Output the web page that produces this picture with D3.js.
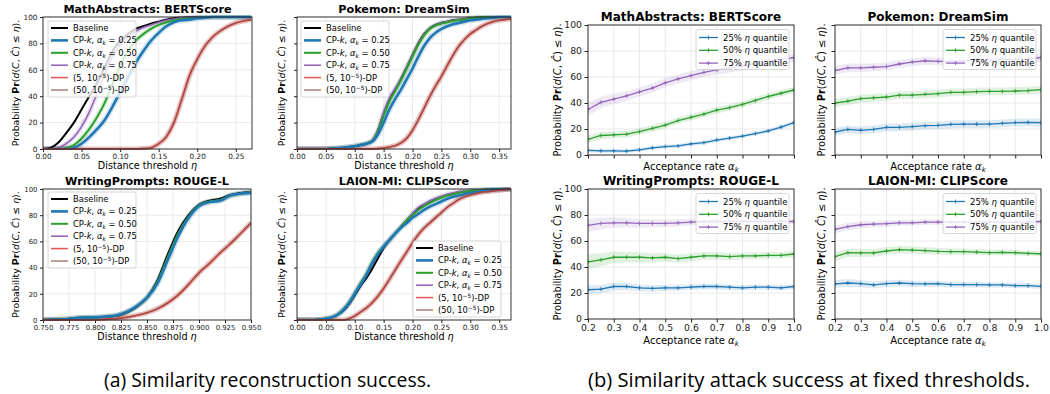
<!DOCTYPE html>
<html><head><meta charset="utf-8">
<script src="https://cdn.jsdelivr.net/npm/d3@7"></script>
<style>
body{margin:0;background:#fff;}
svg{display:block;font-family:"DejaVu Sans",sans-serif;}
</style></head><body>
<svg id="c" width="1050" height="394"></svg>
<script>
// ---------------- DATA ----------------
// (a) CDF curves
const mathEta = [0,0.01,0.02,0.03,0.04,0.05,0.06,0.07,0.08,0.09,0.10,0.11,0.12,0.13,0.14,0.15,0.16,0.17,0.18,0.19,0.20,0.21,0.22,0.23,0.24,0.25,0.26,0.27];
const mathBaseline = [0,1,5,12,20,30,40,50,62,74,82,87,91,93,95,96.5,98,99,99.5,100,100,100,100,100,100,100,100,100];
const mathCP25 = [0,0,0,0,1,4,9,15,22,32,43,54,65,74,82,88,93,96,97.5,98,99,99.5,100,100,100,100,100,100];
const mathCP50 = [0,0,0,1,3,8,15,24,35,49,63,74,82,87,91,94,96,97.5,98.5,99,99.5,100,100,100,100,100,100,100];
const mathCP75 = [0,0,1,4,9,17,28,42,57,70,79,85,89,92,94,96,97.5,98.5,99.5,100,100,100,100,100,100,100,100,100];
const mathDP5 = [0,0,0,0,0,0,0,0,0,0,0,0,0,0.3,1,4,9,20,38,56,68,78,85,89.5,93,95.5,97,98];
const mathDP50 = [0,0,0,0,0,0,0,0,0,0,0,0,0,0.3,1,4,10,21,37,55,68,78,84.5,89.5,93,95.5,97,98.2];

const pokeEta = [0,0.01,0.02,0.03,0.04,0.05,0.06,0.07,0.08,0.09,0.10,0.11,0.12,0.13,0.14,0.15,0.16,0.17,0.18,0.19,0.20,0.21,0.22,0.23,0.24,0.25,0.26,0.27,0.28,0.29,0.30,0.31,0.32,0.33,0.34,0.35,0.36,0.37];
const pokeBaseline = [0,0,0,0,0,0,0.3,0.5,1,1.5,2,3,4,6,14,27,37,45,53,62,71,80,87,91.5,94,95.5,96.5,97.5,98,98.5,99,99.5,100,100,100,100,100,100];
const pokeCP25 = [0,0,0,0,0,0,0.3,0.5,1,1.5,2,3,4,5.5,11,20,30,38,45,53,61,70,78,84,88,91,93,94.5,95.5,96.5,97.5,98,98.5,99,99.5,100,100,100];
const pokeCP50 = [0,0,0,0,0,0,0.3,0.5,1,1.5,2.2,3.2,4.2,6,13,25,36,44,52,61,70,79,86,91,93.5,95,96,97,97.5,98,99,99.5,100,100,100,100,100,100];
const pokeCP75 = [0,0,0,0,0,0,0.3,0.5,1,1.5,2,3,4,6.5,14,28,39,46,53,62,71,80,87,91.5,94,95.5,96.5,97.5,98,98.5,99,99.5,100,100,100,100,100,100];
const pokeDP5 = [0,0,0,0,0,0,0,0,0,0,0,0,0,0,0.3,0.7,1.5,2.5,4.5,8,14,22,31,40,48,55,63,71,78,83,87,90,93,95,96.5,97.5,98,98.5];
const pokeDP50 = [0,0,0,0,0,0,0,0,0,0,0,0,0,0,0.3,0.8,1.6,2.7,5,8.5,14.5,22.5,31,39.5,47.5,55,63.5,71,77.5,83,87.5,90.5,93,95,96.5,97.5,98,98.7];

const writeEta = [0.75,0.76,0.77,0.78,0.79,0.80,0.81,0.82,0.83,0.84,0.85,0.86,0.87,0.88,0.89,0.90,0.91,0.92,0.93,0.94,0.95];
const writeBaseline = [0,0.3,0.5,1.5,2,2,2.5,3,5.5,10,17,30,50,68,80,88,91,92.5,95.5,97,97.5];
const writeCP25 = [0,0.3,0.5,1.3,1.8,2,2.5,3.5,6,10.5,17,28,46,64,78,87,90,91,95,96.5,97];
const writeCP50 = [0,0.3,0.5,1.4,1.9,2,2.5,3.3,5.8,10.3,17,29,48,66,79,87.5,90.5,91.5,95,96.5,97.5];
const writeCP75 = [0,0.3,0.5,1.4,1.9,2,2.5,3.3,5.8,10.3,17,29,48,66,79,87.5,90.5,91.5,95,96.5,97.5];
const writeDP5 = [0,0,0,0,0,0,0.5,1,2,3.5,5.5,8.5,13,19,27,36,43,51,58,66,74];
const writeDP50 = [0,0,0,0,0,0,0.5,1,2,3.6,5.6,8.8,13.5,19.5,27.5,36,43.5,51,58.5,66,74.5];

const laionEta = [0,0.01,0.02,0.03,0.04,0.05,0.06,0.07,0.08,0.09,0.10,0.11,0.12,0.13,0.14,0.15,0.16,0.17,0.18,0.19,0.20,0.21,0.22,0.23,0.24,0.25,0.26,0.27,0.28,0.29,0.30,0.31,0.32,0.33,0.34,0.35,0.36,0.37];
const laionBaseline = [0,0,0,0,0.3,1,2,4,7,12,19,26,32,39,47,55,61,66,71,76,81,85,88,90.5,92.5,94,95.5,96.5,97.5,98,98.5,99,99.3,99.5,99.7,99.8,99.9,100];
const laionCP25 = [0,0,0,0,0.3,1,2,4,7.5,13,20,27,34,43,50,56,61,66,70.5,74,78,81,84,86.5,88.5,90.5,92.5,94,95,96,97,97.5,98.5,99,99.5,99.7,100,100];
const laionCP50 = [0,0,0,0,0.3,1,2,4,8,13,20,28,35,44,51,56,61,66,71,76,80,84,87,89.5,91.5,93.5,95,96,97,98,98.5,99,99.3,99.5,99.7,99.9,100,100];
const laionCP75 = [0,0,0,0,0.3,1,2,4,7.5,12.5,20,27,34,42,50,56,61,66,71,76,81.5,86,88.5,91,93,94.5,96,97,98,98.5,99,99.3,99.5,99.7,99.8,99.9,100,100];
const laionDP5 = [0,0,0,0,0,0,0,0,0,1,3,6,9,13,18,24,31,38,45,52,59,65,70,74,78,82,86,89,92,94,95.5,96.5,97.5,98,98.5,99,99.5,100];
const laionDP50 = [0,0,0,0,0,0,0,0,0,1.2,3.2,6.3,9.5,13.5,18.5,24.5,31,38.5,45.5,52,59,65.5,70.5,74.5,78.5,82,86,89,92,94,95.5,96.5,97.5,98,98.7,99.2,99.6,100];

// (b) attack success vs acceptance rate
const alphaK = [0.2,0.25,0.3,0.35,0.4,0.45,0.5,0.55,0.6,0.65,0.7,0.75,0.8,0.85,0.9,0.95,1.0];
const mathQ25 = [3.5,3.2,3.2,3.0,4,5.5,6.5,7,8.5,9.5,11.5,13,14.5,16.5,18.5,21.5,25];
const mathQ50 = [12,15,15.5,16,18,20.5,23,26.5,29,31.5,34.5,36.5,39,42,45,47.5,50];
const mathQ75 = [35,40.5,43,45.5,48.5,51.5,55.5,58.5,61,63.5,65.5,67,68.5,70,72,73.5,75];
const pokeQ25 = [17.7,19.7,19,19.7,21.3,21.3,21.8,22.6,22.8,23.6,23.8,23.8,23.8,24.4,24.9,25.1,24.9];
const pokeQ50 = [40,41.5,43.3,44,44.6,46,46,46.7,47.2,48.2,48.2,48.7,49,49,49.2,49.5,50.3];
const pokeQ75 = [65,67,67,67.5,68,70,71.5,72.5,72,72,72.5,73,73,73.5,73.5,74,75];
const writeQ25 = [22.5,23,25,25,24,23.5,24,24,24.5,25,25,24.5,24,24.5,24.5,24,25];
const writeQ50 = [44,45.5,47.5,47.5,47.5,47,47.5,46.5,47.5,48.5,48.5,48,48.5,48.5,49,49,50];
const writeQ75 = [72,73.5,74,74,73.5,73.5,73.5,74,74.5,75,75,75,75,75,75,75,75];
const laionQ25 = [27,27.7,27.2,26.2,27.2,27.7,27.2,27,27.2,26.4,26.4,26.4,26.2,26.2,25.6,25.6,25.1];
const laionQ50 = [48,51,50.8,50.8,52.3,53.3,53,52.6,52,51.8,51.8,51.5,51,51.3,51,50.5,50.2];
const laionQ75 = [69,71,72.5,73,73.3,74,74,74.5,74.5,74.5,74.5,74.5,74.5,74.5,74.5,74.5,75];
// confidence half-widths
const mathHw25 = [1.5,1.5,1.5,1.5,1.5,1.5,1.5,1.5,1.5,1.5,1.5,1.5,1.5,1.5,1.5,1.8,2];
const mathHw50 = [3,2.8,2.5,2.5,2.5,2.5,2.5,2.5,2.5,2.5,2.5,2.5,2.5,2.5,2.5,2.5,2.5];
const mathHw75 = [5,4.5,4,3.8,3.5,3.5,3.5,3.5,3.5,3.5,3.5,3.5,3.5,3.5,3.5,3.5,3];
const pokeHw25 = [3,3,3,3,3,3,3,3,3,3,3,3,3,3,3,3,3];
const pokeHw50 = [3,3,3,3,3,3,3,3,3,3,3,3,3,3,3,3,3];
const pokeHw75 = [3.5,3.3,3.2,3,3,3,3,3,3,3,3,3,3,3,3,3,3];
const writeHw25 = [3.5,3.2,3,2.8,2.6,2.5,2.4,2.3,2.2,2.2,2.1,2.1,2,2,2,2,2];
const writeHw50 = [6,5,4.5,4,3.8,3.5,3.3,3.2,3,3,2.8,2.8,2.7,2.6,2.5,2.5,2.5];
const writeHw75 = [5,4.5,4,3.5,3.3,3,3,2.8,2.6,2.5,2.4,2.3,2.2,2.1,2,2,2];
const laionHw25 = [3,3,2.8,2.7,2.6,2.5,2.5,2.4,2.3,2.3,2.2,2.2,2.1,2.1,2,2,2];
const laionHw50 = [3.5,3.3,3.2,3,3,2.9,2.8,2.7,2.6,2.5,2.4,2.3,2.2,2.2,2.1,2,2];
const laionHw75 = [3,2.8,2.6,2.4,2.3,2.2,2.1,2,2,1.9,1.8,1.8,1.7,1.7,1.6,1.6,1.5];

// tick values
const yTicks = [0,20,40,60,80,100];
const etaTicksA = [0,0.05,0.10,0.15,0.20,0.25];
const etaTicksB = [0,0.05,0.10,0.15,0.20,0.25,0.30,0.35];
const etaTicksW = [0.75,0.775,0.80,0.825,0.85,0.875,0.90,0.925,0.95];
const alphaTicks = [0.2,0.3,0.4,0.5,0.6,0.7,0.8,0.9,1.0];

// --------------- DRAWING ---------------
const svg = d3.select("#c");
const C = {black:"#000000", blue:"#1f77b4", green:"#2ca02c", purple:"#9467bd", red:"#d62728", brown:"#8c564b"};

function rich(t, segs, fs){
  segs.forEach(s=>{
    if(typeof s==="string") s={t:s};
    const ts=t.append("tspan").text(s.t);
    if(s.b) ts.attr("font-weight","bold");
    if(s.i) ts.attr("font-style","italic");
    if(s.sub) ts.attr("baseline-shift",-fs*0.22).attr("font-size",fs*0.7);
    if(s.sup) ts.attr("baseline-shift",fs*0.38).attr("font-size",fs*0.7);
  });
  return t;
}
const yLabelSegs = ["Probability ",{t:"Pr",b:1},"(",{t:"d",i:1},"(",{t:"C",i:1},", ",{t:"Ĉ",i:1},") ≤ ",{t:"η",i:1},")."];

function axesFrame(g,p,x,y,xt,fmt,showX,showY,fs,tick,xpad){
  g.append("g").selectAll("line").data(xt).join("line")
    .attr("x1",d=>x(d)).attr("x2",d=>x(d)).attr("y1",p.y0).attr("y2",p.y1)
    .attr("stroke","#e4e4e4").attr("stroke-width",0.8);
  g.append("g").selectAll("line").data(yTicks).join("line")
    .attr("y1",d=>y(d)).attr("y2",d=>y(d)).attr("x1",p.x0).attr("x2",p.x1)
    .attr("stroke","#e4e4e4").attr("stroke-width",0.8);
  const ax=g.append("g").attr("transform",`translate(0,${p.y1})`)
    .call(d3.axisBottom(x).tickValues(xt).tickFormat(showX?d3.format(fmt):"").tickSize(tick).tickPadding(xpad));
  const ay=g.append("g").attr("transform",`translate(${p.x0},0)`)
    .call(d3.axisLeft(y).tickValues(yTicks).tickFormat(showY?d3.format("d"):"").tickSize(tick).tickPadding(2.5));
  [ax,ay].forEach(a=>{a.select(".domain").remove();
    a.attr("font-family","DejaVu Sans").attr("font-size",fs);
    a.selectAll("line").attr("stroke","#222");
    a.selectAll("text").attr("fill","#222");});
}
function frame(g,p){
  g.append("rect").attr("x",p.x0).attr("y",p.y0).attr("width",p.x1-p.x0).attr("height",p.y1-p.y0)
   .attr("fill","none").attr("stroke","#222").attr("stroke-width",0.9);
}

// ---- (a) ----
const leftSeries = [
  {key:"base", color:C.black, w:2, band:0, label:["Baseline"]},
  {key:"cp25", color:C.blue, w:2.6, band:6, label:["CP-",{t:"k",i:1},", ",{t:"α",i:1},{t:"k",i:1,sub:1}," = 0.25"]},
  {key:"cp50", color:C.green, w:2, band:5, label:["CP-",{t:"k",i:1},", ",{t:"α",i:1},{t:"k",i:1,sub:1}," = 0.50"]},
  {key:"cp75", color:C.purple, w:1.6, band:5, label:["CP-",{t:"k",i:1},", ",{t:"α",i:1},{t:"k",i:1,sub:1}," = 0.75"]},
  {key:"dp5", color:C.red, w:1.6, band:5, op:0.9, label:["(5, 10",{t:"−5",sup:1},")-DP"]},
  {key:"dp50", color:C.brown, w:1.5, band:5, op:0.6, label:["(50, 10",{t:"−5",sup:1},")-DP"]}
];
const drawOrder = ["base","cp75","cp50","cp25","dp5","dp50"];
const leftPanels = [
  {title:"MathAbstracts: BERTScore", x0:43,x1:252,y0:17,y1:149, xdom:[0,0.271], xt:etaTicksA, fmt:".2f", showY:true, eta:mathEta,
   d:{base:mathBaseline,cp25:mathCP25,cp50:mathCP50,cp75:mathCP75,dp5:mathDP5,dp50:mathDP50}, leg:[48,21]},
  {title:"Pokemon: DreamSim", x0:297,x1:511,y0:17,y1:149, xdom:[0,0.3705], xt:etaTicksB, fmt:".2f", showY:false, eta:pokeEta,
   d:{base:pokeBaseline,cp25:pokeCP25,cp50:pokeCP50,cp75:pokeCP75,dp5:pokeDP5,dp50:pokeDP50}, leg:[301,21]},
  {title:"WritingPrompts: ROUGE-L", x0:43,x1:251,y0:189,y1:320, xdom:[0.75,0.95], xt:etaTicksW, fmt:".3f", showY:true, eta:writeEta,
   d:{base:writeBaseline,cp25:writeCP25,cp50:writeCP50,cp75:writeCP75,dp5:writeDP5,dp50:writeDP50}, leg:[48,192]},
  {title:"LAION-MI: CLIPScore", x0:297,x1:511,y0:189,y1:320, xdom:[0,0.3705], xt:etaTicksB, fmt:".2f", showY:false, eta:laionEta,
   d:{base:laionBaseline,cp25:laionCP25,cp50:laionCP50,cp75:laionCP75,dp5:laionDP5,dp50:laionDP50}, leg:[413,241]}
];
leftPanels.forEach((p,i)=>{
  const g=svg.append("g");
  const x=d3.scaleLinear().domain(p.xdom).range([p.x0,p.x1]);
  const y=d3.scaleLinear().domain([0,100]).range([p.y1,p.y0]);
  axesFrame(g,p,x,y,p.xt,p.fmt,true,p.showY,i===2?6.9:7.3,3,2);
  const cid="clipL"+i;
  g.append("clipPath").attr("id",cid).append("rect").attr("x",p.x0).attr("y",p.y0-2).attr("width",p.x1-p.x0).attr("height",p.y1-p.y0+3);
  const cg=g.append("g").attr("clip-path",`url(#${cid})`);
  const line=d3.line().x((d,j)=>x(p.eta[j])).y(d=>y(d)).curve(d3.curveMonotoneX);
  drawOrder.forEach(k=>{
    const s=leftSeries.find(z=>z.key===k);
    if(s.band) cg.append("path").attr("d",line(p.d[k])).attr("fill","none").attr("stroke",s.color)
      .attr("stroke-width",s.band).attr("stroke-opacity",0.18).attr("stroke-linejoin","round");
  });
  drawOrder.forEach(k=>{
    const s=leftSeries.find(z=>z.key===k);
    cg.append("path").attr("d",line(p.d[k])).attr("fill","none").attr("stroke",s.color)
      .attr("stroke-width",s.w).attr("stroke-opacity",s.op||1).attr("stroke-linejoin","round");
  });
  frame(g,p);
  g.append("text").attr("x",(p.x0+p.x1)/2).attr("y",p.y0-4).attr("text-anchor","middle")
    .attr("font-weight","bold").attr("font-size",11.2).text(p.title);
  rich(g.append("text").attr("x",(p.x0+p.x1)/2).attr("y",p.y1+19.8).attr("text-anchor","middle").attr("font-size",9.6),
    ["Distance threshold ",{t:"η",i:1}],9.6);
  rich(g.append("text").attr("transform",`translate(${p.x0-(p.showY?24.5:12)},${(p.y0+p.y1)/2}) rotate(-90)`)
    .attr("text-anchor","middle").attr("font-size",9.4),yLabelSegs,9.4);
  // legend
  const lg=g.append("g").attr("transform",`translate(${p.leg[0]},${p.leg[1]})`);
  lg.append("rect").attr("width",88).attr("height",76).attr("rx",2).attr("fill","#fff").attr("fill-opacity",0.8)
    .attr("stroke","#cccccc").attr("stroke-width",0.8);
  leftSeries.forEach((s,j)=>{
    const yy=7+j*12.4;
    lg.append("line").attr("x1",3).attr("x2",20).attr("y1",yy).attr("y2",yy).attr("stroke",s.color)
      .attr("stroke-width",s.w).attr("stroke-opacity",s.op?0.75:1);
    rich(lg.append("text").attr("x",25).attr("y",yy+3).attr("font-size",8.4),s.label,8.4);
  });
});

// ---- (b) ----
const rightSeries = [
  {color:C.blue, label:["25% ",{t:"η",i:1}," quantile"]},
  {color:C.green, label:["50% ",{t:"η",i:1}," quantile"]},
  {color:C.purple, label:["75% ",{t:"η",i:1}," quantile"]}
];
const rightPanels = [
  {title:"MathAbstracts: BERTScore", x0:588,x1:794,y0:25,y1:155, showX:false, showY:true, q:[mathQ25,mathQ50,mathQ75], hw:[mathHw25,mathHw50,mathHw75]},
  {title:"Pokemon: DreamSim", x0:835,x1:1041,y0:25,y1:155, showX:false, showY:false, q:[pokeQ25,pokeQ50,pokeQ75], hw:[pokeHw25,pokeHw50,pokeHw75]},
  {title:"WritingPrompts: ROUGE-L", x0:588,x1:794,y0:189,y1:319, showX:true, showY:true, q:[writeQ25,writeQ50,writeQ75], hw:[writeHw25,writeHw50,writeHw75]},
  {title:"LAION-MI: CLIPScore", x0:835,x1:1041,y0:189,y1:319, showX:true, showY:false, q:[laionQ25,laionQ50,laionQ75], hw:[laionHw25,laionHw50,laionHw75]}
];
rightPanels.forEach((p,i)=>{
  const g=svg.append("g");
  const x=d3.scaleLinear().domain([0.2,1.0]).range([p.x0,p.x1]);
  const y=d3.scaleLinear().domain([0,100]).range([p.y1,p.y0]);
  axesFrame(g,p,x,y,alphaTicks,".1f",p.showX,p.showY,9.3,3.5,1.5);
  const cid="clipR"+i;
  g.append("clipPath").attr("id",cid).append("rect").attr("x",p.x0).attr("y",p.y0).attr("width",p.x1-p.x0).attr("height",p.y1-p.y0);
  const cg=g.append("g").attr("clip-path",`url(#${cid})`);
  p.q.forEach((vals,si)=>{
    const hw=p.hw[si], col=rightSeries[si].color;
    const area=d3.area().x((d,j)=>x(alphaK[j])).y0((d,j)=>y(d-hw[j])).y1((d,j)=>y(d+hw[j]));
    cg.append("path").attr("d",area(vals)).attr("fill",col).attr("fill-opacity",0.15);
  });
  p.q.forEach((vals,si)=>{
    const col=rightSeries[si].color;
    const line=d3.line().x((d,j)=>x(alphaK[j])).y(d=>y(d));
    cg.append("path").attr("d",line(vals)).attr("fill","none").attr("stroke",col).attr("stroke-width",1.3);
    cg.append("g").selectAll("path").data(vals).join("path")
      .attr("d",(d,j)=>{const cx=x(alphaK[j]),cy=y(d);return `M${cx-2},${cy}H${cx+2}M${cx},${cy-2}V${cy+2}`;})
      .attr("stroke",col).attr("stroke-width",0.9);
  });
  frame(g,p);
  g.append("text").attr("x",(p.x0+p.x1)/2).attr("y",p.y0-4.5).attr("text-anchor","middle")
    .attr("font-weight","bold").attr("font-size",12).text(p.title);
  rich(g.append("text").attr("x",(p.x0+p.x1)/2).attr("y",p.showX?p.y1+25:p.y1+14.5).attr("text-anchor","middle").attr("font-size",10),
    ["Acceptance rate ",{t:"α",i:1},{t:"k",i:1,sub:1}],10);
  rich(g.append("text").attr("transform",`translate(${p.x0-(p.showY?27:10)},${(p.y0+p.y1)/2}) rotate(-90)`)
    .attr("text-anchor","middle").attr("font-size",9.9),yLabelSegs,9.9);
  const lg=g.append("g").attr("transform",`translate(${p.x1-98},${p.y0+4.5})`);
  lg.append("rect").attr("width",93).attr("height",40).attr("rx",2).attr("fill","#fff").attr("fill-opacity",0.8)
    .attr("stroke","#cccccc").attr("stroke-width",0.8);
  rightSeries.forEach((s,j)=>{
    const yy=8+j*12.8;
    lg.append("line").attr("x1",3).attr("x2",22).attr("y1",yy).attr("y2",yy).attr("stroke",s.color).attr("stroke-width",1.3);
    lg.append("path").attr("d",`M10.5,${yy}H14.5M12.5,${yy-2}V${yy+2}`).attr("stroke",s.color).attr("stroke-width",0.9);
    rich(lg.append("text").attr("x",27).attr("y",yy+3).attr("font-size",8.5),s.label,8.5);
  });
});

// captions
svg.append("text").attr("x",104).attr("y",387).attr("font-family","Open Sans, sans-serif").attr("font-size",19.5)
  .attr("textLength",327).attr("lengthAdjust","spacingAndGlyphs").text("(a) Similarity reconstruction success.");
svg.append("text").attr("x",588).attr("y",387).attr("font-family","Open Sans, sans-serif").attr("font-size",19.5)
  .attr("textLength",442).attr("lengthAdjust","spacingAndGlyphs").text("(b) Similarity attack success at fixed thresholds.");
</script>
</body></html>
